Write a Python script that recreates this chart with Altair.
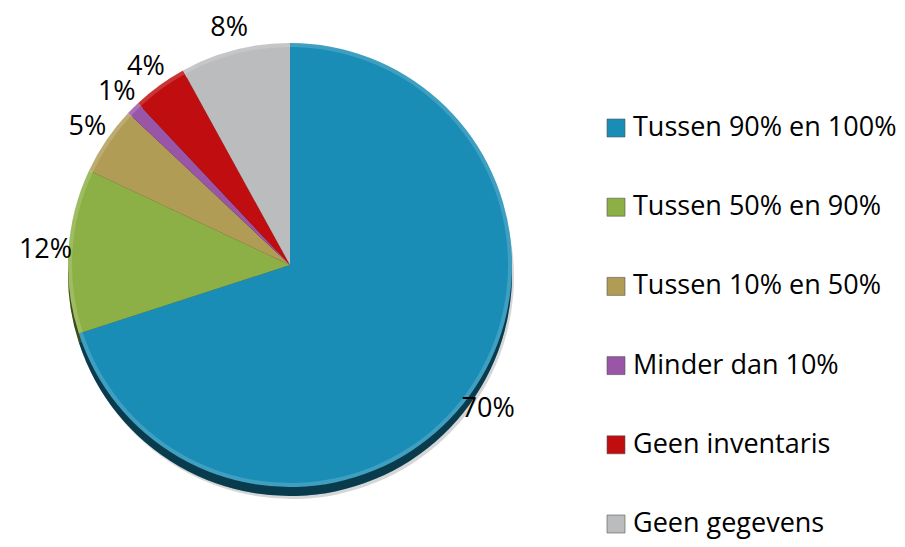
import altair as alt
import pandas as pd

categories = ["Tussen 90% en 100%", "Tussen 50% en 90%", "Tussen 10% en 50%",
              "Minder dan 10%", "Geen inventaris", "Geen gegevens"]
values = [70, 12, 5, 1, 4, 8]
labels = ["70%", "12%", "5%", "1%", "4%", "8%"]
colors = ["#1A8DB6", "#8DB046", "#B19C56", "#9A56A6", "#C00E10", "#BBBCBE"]

df = pd.DataFrame({
    "cat": categories,
    "value": values,
    "label": labels,
    "idx": list(range(len(categories))),
})

FONT = "Open Sans"
CX, CY, R = 282, 257, 222

color_enc = alt.Color("cat:N", scale=alt.Scale(domain=categories, range=colors), legend=None)
theta_enc = alt.Theta("value:Q", stack=True)
order_enc = alt.Order("idx:Q")

base = alt.Chart(df)

shadow = base.mark_arc(radius=R, color="#000000", opacity=0.16).encode(
    theta=theta_enc, order=order_enc, x=alt.value(CX + 2), y=alt.value(CY + 12))

edge_col = base.mark_arc(radius=R).encode(
    theta=theta_enc, order=order_enc, color=color_enc, x=alt.value(CX), y=alt.value(CY + 9))

edge_dark = base.mark_arc(radius=R, color="#000000", opacity=0.58).encode(
    theta=theta_enc, order=order_enc, x=alt.value(CX), y=alt.value(CY + 9))

main = base.mark_arc(radius=R).encode(
    theta=theta_enc, order=order_enc, color=color_enc, x=alt.value(CX), y=alt.value(CY))

rim = base.mark_arc(radius=R, radius2=R - 4, color="#FFFFFF", opacity=0.16).encode(
    theta=theta_enc, order=order_enc, x=alt.value(CX), y=alt.value(CY))

text = base.mark_text(radius=245, fontSize=27, font=FONT, color="#000000").encode(
    theta=theta_enc, order=order_enc, text="label:N", x=alt.value(CX), y=alt.value(CY))

leg_y = alt.Y("cat:N", sort=categories,
              scale=alt.Scale(type="point", domain=categories, range=[120, 516], padding=0),
              axis=None)

leg_sq = base.mark_square(size=324, opacity=1, stroke="#555555", strokeWidth=0.6).encode(
    y=leg_y, x=alt.value(608), color=color_enc)

leg_txt = base.mark_text(align="left", baseline="middle", fontSize=27, font=FONT,
                         color="#000000").encode(
    y=leg_y, x=alt.value(625), text="cat:N")

chart = alt.layer(shadow, edge_col, edge_dark, main, rim, text, leg_sq, leg_txt).properties(
    width=889, height=531,
    autosize=alt.AutoSizeParams(type="none"),
    padding=0,
).configure_view(stroke=None)

chart.save("out.html", embed_options={"renderer": "svg", "actions": False})
